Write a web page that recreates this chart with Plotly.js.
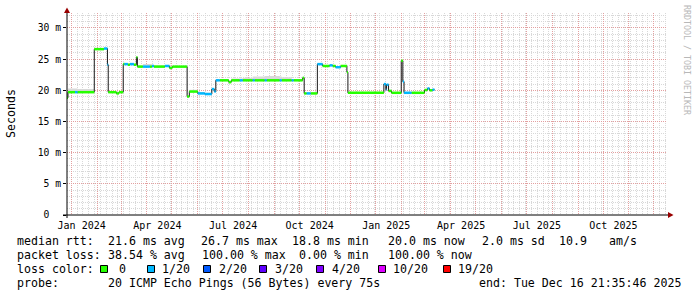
<!DOCTYPE html>
<html><head><meta charset="utf-8">
<script src="https://cdn.plot.ly/plotly-3.0.1.min.js"></script>
<style>html,body{margin:0;padding:0;background:#fff;} #chart{width:697px;height:297px;}</style>
</head><body><div id="chart"></div>
<script>
// ---- data (median RTT in ms, loss count out of 20, smoke top in ms) ----
const dates = [
 '2023-12-26 21:36','2023-12-28 02:00','2024-01-05 12:00','2024-01-08 12:00','2024-01-28 16:00',
 '2024-02-09 07:00','2024-02-13 12:00','2024-02-14 11:00','2024-02-24 07:00','2024-02-27 07:00',
 '2024-03-03 11:00','2024-03-04 22:00','2024-03-09 02:00','2024-03-11 12:00','2024-03-16 07:00',
 '2024-03-19 07:00','2024-03-20 12:00','2024-03-27 02:00','2024-04-04 12:00','2024-04-06 22:00',
 '2024-04-09 07:00','2024-04-22 12:00','2024-04-27 22:00','2024-05-01 12:00','2024-05-19 06:00',
 '2024-05-21 22:00','2024-06-01 02:00','2024-06-09 12:00','2024-06-17 22:00','2024-06-20 22:00',
 '2024-06-22 17:00','2024-06-27 12:00','2024-07-08 07:00','2024-07-11 07:00','2024-07-21 12:00',
 '2024-07-25 02:00','2024-08-06 02:00','2024-08-08 12:00','2024-08-20 12:00','2024-08-22 22:00',
 '2024-09-07 12:00','2024-09-09 22:00','2024-09-21 22:00','2024-09-24 07:00','2024-10-05 02:00',
 '2024-10-06 22:00','2024-10-09 22:00','2024-10-14 17:00','2024-10-22 18:00','2024-10-29 02:00',
 '2024-11-06 12:00','2024-11-10 02:00','2024-11-13 17:00','2024-11-19 17:00','2024-11-27 06:00',
 '2024-11-28 11:00','2025-01-10 16:00','2025-01-13 01:00','2025-01-13 22:00','2025-01-16 07:00',
 '2025-01-19 22:00','2025-01-31 13:00','2025-02-02 11:00','2025-02-03 22:00','2025-02-12 22:00',
 '2025-02-28 12:00','2025-03-04 02:00','2025-03-06 12:00','2025-03-10 02:00','2025-03-12 12:00'
];
const medianMs = [
 18.8,19.7,19.7,19.7,26.6, 26.7,24.1,19.7,19.5,19.7,
 24.2,24.2,24.1,24.2,24.1, 25.3,23.8,23.8,23.8,23.9,
 23.8,23.9,23.6,23.8,19.0, 19.8,19.5,19.4,20.2,19.8,
 21.6,21.6,21.3,21.6,21.6, 21.6,21.6,21.6,21.6,21.6,
 21.6,21.6,21.6,21.6,22.0, 19.5,19.5,19.5,24.2,23.9,
 24.0,23.9,23.7,23.9,22.9, 19.6,21.0,20.1,20.9,19.9,
 19.6,24.75,21.4,19.6,19.6, 20.05,20.3,20.0,20.1,20.1
];
const lossCount = [
 0,0,1,0,0, 1,1,0,0,0,
 0,1,0,1,0, 0,0,1,0,1,
 0,1,0,0,0, 0,1,1,1,1,
 1,0,0,0,1, 0,1,0,1,0,
 1,0,1,0,0, 0,1,0,1,0,
 1,0,1,0,0, 0,1,1,1,0,
 0,0,1,1,0, 0,1,0,1,1
];
const smokeTopMs = [
 18.8,20.3,20.3,20.2,26.7, 26.8,24.1,19.8,19.7,19.8,
 24.3,24.3,24.3,24.3,24.2, 25.3,24.0,24.2,24.2,24.1,
 24.0,24.0,23.8,23.9,19.1, 20.1,19.7,19.6,20.3,19.9,
 21.7,21.8,21.5,21.9,21.9, 22.0,22.2,22.2,22.3,22.3,
 22.2,22.1,21.8,21.7,22.0, 19.6,19.6,19.6,24.3,24.0,
 24.1,24.0,23.9,24.0,22.9, 19.7,21.1,20.1,21.0,20.0,
 19.7,24.75,21.4,19.7,19.7, 20.1,20.3,20.1,20.2,20.2
];
const lossLevels = [0, 1, 2, 3, 4, 10, 19];
const lossLabels = ['0', '1/20', '2/20', '3/20', '4/20', '10/20', '19/20'];
const lossColors = ['#26ff00', '#00b8ff', '#0059ff', '#5e00ff', '#7e00ff', '#dd00ff', '#ff0000'];
const yTickVals = [0, 5, 10, 15, 20, 25, 30];
const yTickText = ['0\u00a0\u00a0', '5 m', '10 m', '15 m', '20 m', '25 m', '30 m'];
const xTickVals = ['2024-01-13 12:00','2024-04-13 12:00','2024-07-13 12:00','2024-10-13 12:00',
                   '2025-01-13 12:00','2025-04-13 12:00','2025-07-13 12:00','2025-10-13 12:00'];
const xTickText = ['Jan 2024','Apr 2024','Jul 2024','Oct 2024','Jan 2025','Apr 2025','Jul 2025','Oct 2025'];
const timeRange = ['2023-12-26 21:35:46', '2025-12-16 21:35:46'];
const yRange = [0, 32.4];
const rttStats = ['21.6 ms avg', '26.7 ms max', '18.8 ms min', '20.0 ms now', '2.0 ms sd', '10.9', 'am/s'];
const lossStats = ['38.54 % avg', '100.00 % max', '0.00 % min', '100.00 % now'];
const probeText = '20 ICMP Echo Pings (56 Bytes) every 75s';
const endText = 'end: Tue Dec 16 21:35:46 2025';

// ---- layout helpers (pixel -> paper) ----
const L = 67, T = 13, W = 600, H = 202;
const px = x => (x - L) / W;
const py = y => (T + H - y) / H;
const MONO = 'DejaVu Sans Mono';
const nb = s => s.replace(/ /g, '\u00a0');

const traces = [];
traces.push({x: dates, y: medianMs, type: 'scatter', mode: 'lines', line: {shape: 'hv', width: 0}, hoverinfo: 'skip'});
traces.push({x: dates, y: smokeTopMs, type: 'scatter', mode: 'lines', line: {shape: 'hv', width: 0}, fill: 'tonexty', fillcolor: '#d9d9d9', hoverinfo: 'skip'});
traces.push({x: dates, y: medianMs, type: 'scatter', mode: 'lines', line: {shape: 'hv', width: 1, color: '#1a1a1a'}, hoverinfo: 'skip'});
lossLevels.forEach((lv, k) => {
  const xs = [], ys = [];
  for (let i = 0; i < dates.length - 1; i++) {
    if (lossCount[i] === lv) { xs.push(dates[i], dates[i + 1], null); ys.push(medianMs[i], medianMs[i], null); }
  }
  if (xs.length) traces.push({x: xs, y: ys, type: 'scatter', mode: 'lines', line: {width: 2.5, color: lossColors[k]}, connectgaps: false, hoverinfo: 'skip'});
});
traces.push({x: [], y: [], xaxis: 'x2', yaxis: 'y', type: 'scatter', mode: 'lines', hoverinfo: 'skip'});

const ann = [];
const addText = (x, y, t, size, color, extra) => ann.push(Object.assign({xref: 'paper', yref: 'paper', x: px(x), y: py(y), text: nb(t), showarrow: false, xanchor: 'left', yanchor: 'middle', font: {family: MONO, size: size || 11.6, color: color || '#000'}, borderpad: 0}, extra || {}));
const r1 = 241, r2 = 255, r3 = 268.5, r4 = 283;
addText(16, r1, 'median rtt:');
[107, 200, 291, 387, 481, 558, 608].forEach((x, i) => addText(x, r1, rttStats[i]));
addText(16, r2, 'packet loss:');
[107, 201, 298, 387].forEach((x, i) => addText(x, r2, lossStats[i]));
addText(16, r3, 'loss color:');
const sqX = [100, 147, 203, 259, 316, 378, 443];
const txX = [118, 161, 218, 274, 331, 392, 457];
lossLabels.forEach((lb, i) => addText(txX[i], r3, lb));
addText(16, r4, 'probe:');
addText(107, r4, probeText);
addText(478, r4, endText);
// y-axis title
ann.push({xref: 'paper', yref: 'paper', x: px(11), y: py(114), text: 'Seconds', showarrow: false, textangle: -90, xanchor: 'center', yanchor: 'middle', font: {family: MONO, size: 11.6, color: '#000'}});
// watermark
ann.push({xref: 'paper', yref: 'paper', x: px(687), y: py(60), text: nb('RRDTOOL / TOBI OETIKER'), showarrow: false, textangle: 90, xanchor: 'center', yanchor: 'middle', font: {family: MONO, size: 8.3, color: '#b8b8b8'}});

const shapes = [];
shapes.push({type: 'line', xref: 'paper', yref: 'paper', x0: px(63), x1: px(669), y0: py(215), y1: py(215), line: {color: '#000', width: 1}});
shapes.push({type: 'line', xref: 'paper', yref: 'paper', x0: px(67), x1: px(67), y0: py(218), y1: py(12), line: {color: '#000', width: 1}});
shapes.push({type: 'path', xref: 'paper', yref: 'paper', path: `M ${px(64)},${py(13)} L ${px(70)},${py(13)} L ${px(67)},${py(7.5)} Z`, fillcolor: '#990000', line: {width: 0}});
shapes.push({type: 'path', xref: 'paper', yref: 'paper', path: `M ${px(668)},${py(212)} L ${px(668)},${py(218)} L ${px(673.5)},${py(215)} Z`, fillcolor: '#990000', line: {width: 0}});
sqX.forEach((x, i) => shapes.push({type: 'rect', xref: 'paper', yref: 'paper', x0: px(x + 0.5), x1: px(x + 7.5), y0: py(272.5), y1: py(265.5), fillcolor: lossColors[i], line: {color: '#000', width: 1}}));

const layout = {
  width: 697, height: 297, margin: {l: L, r: 697 - L - W, t: T, b: 297 - T - H, pad: 0},
  paper_bgcolor: '#fff', plot_bgcolor: '#fff', showlegend: false,
  font: {family: MONO, size: 10, color: '#000'},
  xaxis: {type: 'date', range: timeRange, tickmode: 'linear', tick0: '2024-01-01', dtick: 'M1', showticklabels: false, ticks: '',
          showgrid: true, gridcolor: '#e3a0a0', griddash: '1px,1px', gridwidth: 1,
          minor: {dtick: 7 * 86400000, tick0: '2024-01-01', showgrid: true, gridcolor: '#d8d8d8', griddash: '1px,1px', gridwidth: 1},
          showline: false, zeroline: false, fixedrange: true},
  xaxis2: {type: 'date', overlaying: 'x', anchor: 'y', side: 'bottom', range: timeRange, tickmode: 'array', tickvals: xTickVals, ticktext: xTickText,
           showgrid: false, ticks: '', ticklabelstandoff: 3, showline: false, zeroline: false, tickfont: {family: MONO, size: 10, color: '#000'}, fixedrange: true},
  yaxis: {range: yRange, tickmode: 'array', tickvals: yTickVals, ticktext: yTickText, showgrid: true, gridcolor: '#e3a0a0', griddash: '1px,1px',
          minor: {dtick: 1, tick0: 0, showgrid: true, gridcolor: '#d8d8d8', griddash: '1px,1px'},
          ticks: 'outside', ticklen: 3, tickcolor: '#000', zeroline: false, showline: false,
          tickfont: {family: MONO, size: 9.7, color: '#000'}, fixedrange: true},
  annotations: ann, shapes: shapes
};
Plotly.newPlot('chart', traces, layout, {staticPlot: true, displayModeBar: false});
</script></body></html>
